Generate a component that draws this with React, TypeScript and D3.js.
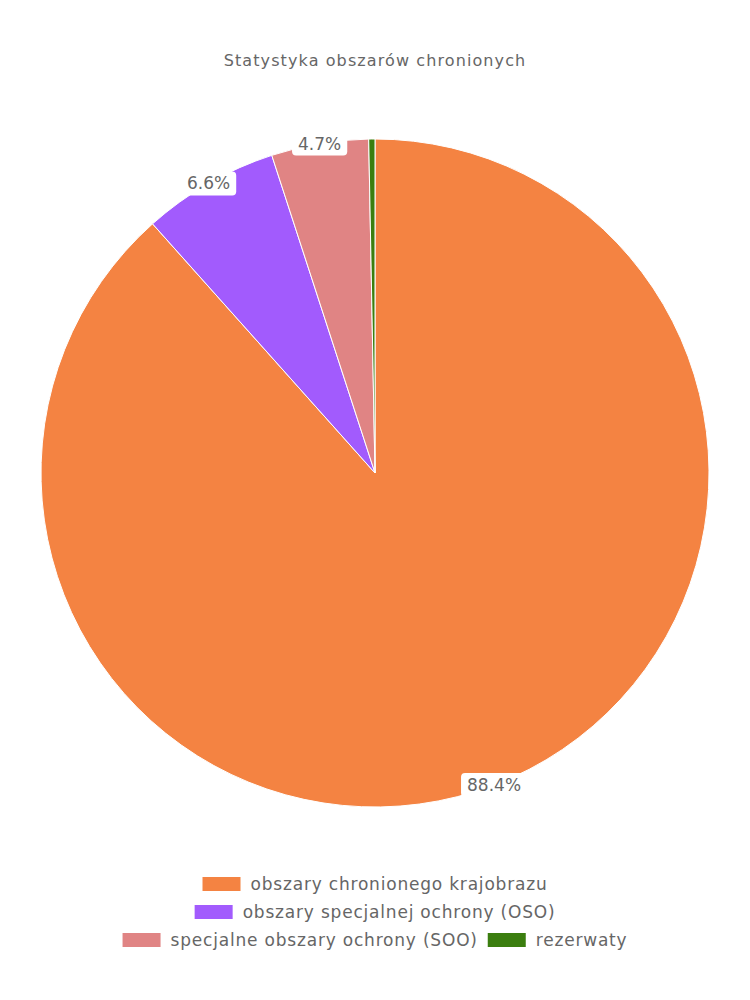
import React, { useEffect, useRef } from "react";
import * as d3 from "d3";

const title = "Statystyka obszarów chronionych";
const categories = [
  "obszary chronionego krajobrazu",
  "obszary specjalnej ochrony (OSO)",
  "specjalne obszary ochrony (SOO)",
  "rezerwaty",
];
const values = [88.4, 6.6, 4.7, 0.3];
const colors = ["#f48342", "#a25bfd", "#e08484", "#3b7e0f"];
const legendRows = [[0], [1], [2, 3]];

const W = 750;
const H = 1000;
const FONT = "'DejaVu Sans', sans-serif";

export default function App() {
  const ref = useRef<SVGSVGElement | null>(null);

  useEffect(() => {
    const svg = d3.select(ref.current);
    svg.selectAll("*").remove();

    svg
      .append("text")
      .attr("x", W / 2 - 8)
      .attr("y", 58)
      .attr("text-anchor", "middle")
      .attr("font-family", FONT)
      .attr("font-size", 16)
      .attr("letter-spacing", 1.1)
      .attr("fill", "#666")
      .text(title);

    const cx = 367;
    const cy = 465;
    const r = 334;
    const total = d3.sum(values);
    const pie = d3.pie<number>().sort(null).value((d) => d);
    const arcs = pie(values);
    const arc = d3.arc<d3.PieArcDatum<number>>().innerRadius(0).outerRadius(r);

    const g = svg.append("g").attr("transform", `translate(${cx},${cy})`);
    g.selectAll("path")
      .data(arcs)
      .enter()
      .append("path")
      .attr("d", arc as any)
      .attr("fill", (_d, i) => colors[i])
      .attr("stroke", "#fff")
      .attr("stroke-width", 1);

    arcs.forEach((a) => {
      const pct = (a.value / total) * 100;
      if (pct < 1) return;
      const mid = (a.startAngle + a.endAngle) / 2;
      const x = Math.sin(mid) * r;
      const y = -Math.cos(mid) * r;
      const lg = g.append("g").attr("transform", `translate(${x},${y})`);
      const rect = lg.append("rect").attr("fill", "#fff").attr("rx", 4).attr("ry", 4);
      const t = lg
        .append("text")
        .attr("text-anchor", "middle")
        .attr("dy", "0.35em")
        .attr("font-family", FONT)
        .attr("font-size", 17)
        .attr("fill", "#666")
        .text(pct.toFixed(1) + "%");
      const w = (t.node() as SVGTextElement).getComputedTextLength();
      rect
        .attr("x", -w / 2 - 6)
        .attr("y", -12)
        .attr("width", w + 12)
        .attr("height", 24);
    });

    // legend
    const rowY = [876, 904, 932];
    const boxW = 38;
    const boxH = 14;
    legendRows.forEach((row, ri) => {
      const rg = svg.append("g");
      let xPos = 0;
      row.forEach((idx, k) => {
        if (k > 0) xPos += 10;
        rg.append("rect")
          .attr("x", xPos)
          .attr("y", rowY[ri] - boxH / 2)
          .attr("width", boxW)
          .attr("height", boxH)
          .attr("fill", colors[idx]);
        const t = rg
          .append("text")
          .attr("x", xPos + boxW + 10)
          .attr("y", rowY[ri])
          .attr("dy", "0.35em")
          .attr("font-family", FONT)
          .attr("font-size", 17)
          .attr("letter-spacing", 0.8)
          .attr("fill", "#666")
          .text(categories[idx]);
        const w = (t.node() as SVGTextElement).getComputedTextLength();
        xPos += boxW + 10 + w;
      });
      rg.attr("transform", `translate(${W / 2 - 8 - xPos / 2},0)`);
    });
  }, []);

  return <svg ref={ref} width={W} height={H - 16} style={{ display: "block" }} />;
}
